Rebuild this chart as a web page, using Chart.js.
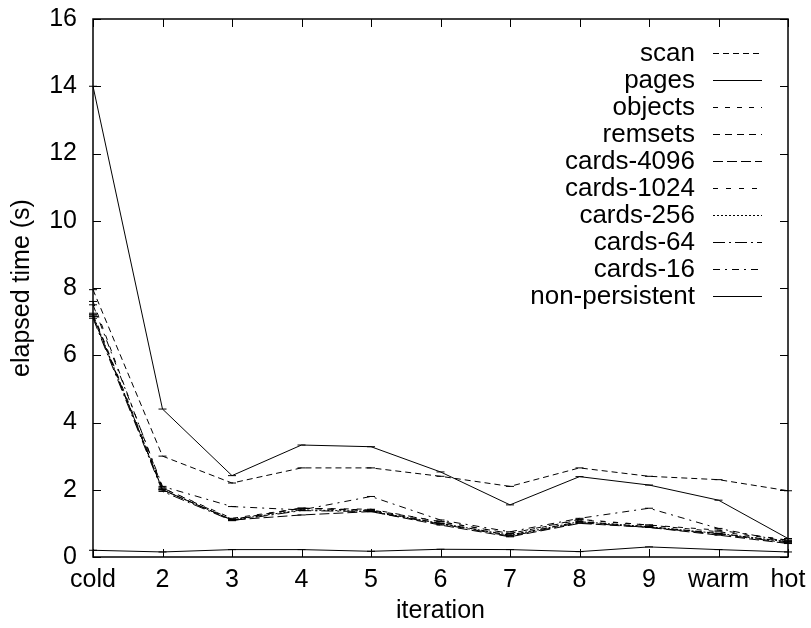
<!DOCTYPE html>
<html>
<head>
<meta charset="utf-8">
<script src="https://cdn.jsdelivr.net/npm/chart.js@4/dist/chart.umd.min.js"></script>
<style>
  html, body { margin: 0; padding: 0; background: #fff; }
  #wrap { width: 811px; height: 628px; }
</style>
</head>
<body>
<div id="wrap"><canvas id="timeChart" width="811" height="628"></canvas></div>
<script>
// iteration categories and y ticks
const iterations = ['cold', '2', '3', '4', '5', '6', '7', '8', '9', 'warm', 'hot'];
const yTicks = [0, 2, 4, 6, 8, 10, 12, 14, 16];

// elapsed time (s) per variant
const scan          = [7.95, 3.00, 2.20, 2.65, 2.65, 2.40, 2.10, 2.65, 2.40, 2.30, 1.97];
const pages         = [14.0, 4.40, 2.42, 3.33, 3.28, 2.53, 1.55, 2.39, 2.14, 1.69, 0.55];
const objects       = [7.60, 2.05, 1.15, 1.45, 1.40, 1.05, 0.70, 1.10, 0.95, 0.75, 0.50];
const remsets       = [7.20, 2.00, 1.10, 1.45, 1.38, 1.00, 0.65, 1.05, 0.90, 0.70, 0.45];
const cards4096     = [7.15, 2.00, 1.10, 1.25, 1.35, 0.95, 0.60, 1.00, 0.88, 0.65, 0.40];
const cards1024     = [7.25, 2.05, 1.12, 1.45, 1.42, 1.05, 0.70, 1.12, 0.95, 0.80, 0.50];
const cards256      = [7.20, 2.00, 1.10, 1.40, 1.36, 1.00, 0.65, 1.05, 0.90, 0.70, 0.45];
const cards64       = [7.10, 1.95, 1.08, 1.38, 1.35, 0.98, 0.62, 1.02, 0.88, 0.68, 0.42];
const cards16       = [7.50, 2.10, 1.50, 1.40, 1.80, 1.10, 0.75, 1.15, 1.45, 0.85, 0.45];
const nonPersistent = [0.20, 0.15, 0.22, 0.22, 0.17, 0.23, 0.22, 0.16, 0.30, 0.22, 0.15];

const FONT = '"Liberation Sans", Arial, Helvetica, sans-serif';

const series = [
    { label: 'scan',           data: scan,          dash: [6, 4] },
    { label: 'pages',          data: pages,         dash: [] },
    { label: 'objects',        data: objects,       dash: [5, 7] },
    { label: 'remsets',        data: remsets,       dash: [7, 5] },
    { label: 'cards-4096',     data: cards4096,     dash: [10, 4] },
    { label: 'cards-1024',     data: cards1024,     dash: [5, 8] },
    { label: 'cards-256',      data: cards256,      dash: [2, 2] },
    { label: 'cards-64',       data: cards64,       dash: [12, 4, 2, 4] },
    { label: 'cards-16',       data: cards16,       dash: [7, 5, 2, 5] },
    { label: 'non-persistent', data: nonPersistent, dash: [] }
];

// gnuplot-like frame with inward ticks on all four sides
const frameTicks = {
    id: 'frameTicks',
    afterDraw(chart) {
        const { ctx, chartArea: a, scales } = chart;
        ctx.save();
        ctx.strokeStyle = '#000';
        ctx.lineWidth = 1.5;
        ctx.strokeRect(a.left, a.top, a.right - a.left, a.bottom - a.top);
        ctx.lineWidth = 1;
        ctx.beginPath();
        scales.y.ticks.forEach((t, i) => {
            const y = Math.round(scales.y.getPixelForTick(i)) + 0.5;
            ctx.moveTo(a.left, y); ctx.lineTo(a.left + 8, y);
            ctx.moveTo(a.right, y); ctx.lineTo(a.right - 8, y);
        });
        scales.x.ticks.forEach((t, i) => {
            const x = Math.round(scales.x.getPixelForTick(i)) + 0.5;
            ctx.moveTo(x, a.bottom); ctx.lineTo(x, a.bottom - 8);
            ctx.moveTo(x, a.top); ctx.lineTo(x, a.top + 8);
        });
        ctx.stroke();
        ctx.restore();
    }
};

// key in the top right, text then line sample
const keyBox = {
    id: 'keyBox',
    afterDraw(chart) {
        const { ctx } = chart;
        ctx.save();
        ctx.font = '26px ' + FONT;
        ctx.textAlign = 'right';
        ctx.textBaseline = 'middle';
        ctx.fillStyle = '#000';
        ctx.strokeStyle = '#000';
        ctx.lineWidth = 1;
        chart.data.datasets.forEach((ds, i) => {
            const y = 53 + i * 27;
            ctx.fillText(ds.label, 695, y + 1);
            ctx.setLineDash(ds.borderDash);
            ctx.beginPath();
            ctx.moveTo(713, y + 0.5);
            ctx.lineTo(762, y + 0.5);
            ctx.stroke();
        });
        ctx.restore();
    }
};

new Chart(document.getElementById('timeChart'), {
    type: 'line',
    data: {
        labels: iterations,
        datasets: series.map(s => ({
            label: s.label,
            data: s.data,
            borderColor: '#000',
            backgroundColor: '#000',
            borderWidth: 1,
            borderDash: s.dash,
            pointStyle: 'line',
            pointRadius: 4,
            pointBorderWidth: 1,
            pointBorderColor: '#000',
            tension: 0,
            fill: false
        }))
    },
    options: {
        responsive: false,
        animation: false,
        layout: { padding: { top: 19, right: 23, left: 0, bottom: 0 } },
        plugins: {
            legend: { display: false },
            tooltip: { enabled: false }
        },
        scales: {
            x: {
                offset: false,
                grid: { display: false, drawTicks: false },
                border: { display: false },
                ticks: {
                    color: '#000',
                    padding: 8,
                    maxRotation: 0,
                    autoSkip: false,
                    font: { family: FONT, size: 25 }
                },
                title: {
                    display: true,
                    text: 'iteration',
                    color: '#000',
                    padding: { top: 0, bottom: 2 },
                    font: { family: FONT, size: 25 }
                },
                afterFit(scale) {
                    scale.height = 71;
                    scale.paddingLeft = 0;
                    scale.paddingRight = 0;
                }
            },
            y: {
                min: 0,
                max: 16,
                afterBuildTicks(scale) { scale.ticks = yTicks.map(v => ({ value: v })); },
                grid: { display: false, drawTicks: false },
                border: { display: false },
                ticks: {
                    color: '#000',
                    padding: 16,
                    font: { family: FONT, size: 25 }
                },
                title: {
                    display: true,
                    text: 'elapsed time (s)',
                    color: '#000',
                    padding: { top: 7, bottom: 0 },
                    font: { family: FONT, size: 25 }
                },
                afterFit(scale) {
                    scale.width = 93;
                    scale.paddingTop = 0;
                    scale.paddingBottom = 0;
                }
            }
        }
    },
    plugins: [frameTicks, keyBox]
});
</script>
</body>
</html>
